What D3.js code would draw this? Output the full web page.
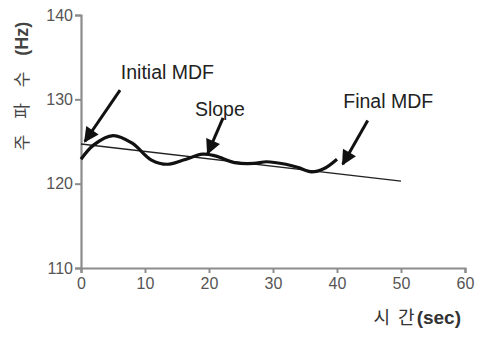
<!DOCTYPE html>
<html>
<head>
<meta charset="utf-8">
<script src="https://cdn.jsdelivr.net/npm/d3@7"></script>
<style>
  body { margin: 0; background: #fff; }
  svg text { font-family: "Liberation Sans", Arial, "Noto Sans CJK KR", sans-serif; }
</style>
</head>
<body>
<div id="chart"></div>
<script>
// smoothed MDF trace (time in sec, frequency in Hz)
const timeVals = [0, 2, 5, 8, 11, 13.5, 16, 19, 21, 24, 27, 29, 32, 34, 36, 38, 40];
const mdfVals = [122.9, 124.6, 125.7, 124.8, 122.8, 122.3, 122.8, 123.5, 123.3, 122.5, 122.4, 122.6, 122.3, 121.9, 121.4, 121.8, 122.9];

// regression line end points
const slopeTime = [0, 50];
const slopeVals = [124.7, 120.3];

const xTicks = [0, 10, 20, 30, 40, 50, 60];
const yTicks = [110, 120, 130, 140];

// annotation labels and arrows (data units)
const labelNames = ['Initial MDF', 'Slope', 'Final MDF'];
const labelPos = [[13.5, 132.4], [21.7, 128.0], [48, 129.0]];
const arrowFrom = [[6.1, 131.1], [22.2, 127.8], [44.8, 127.5]];
const arrowTo = [[0.6, 125.0], [19.8, 123.6], [40.9, 122.3]];

const width = 480, height = 338;
const margin = { top: 15, right: 15, bottom: 70, left: 81 };

const svg = d3.select('#chart').append('svg')
    .attr('width', width)
    .attr('height', height);

const x = d3.scaleLinear().domain([0, 60]).range([margin.left, width - margin.right]);
const y = d3.scaleLinear().domain([110, 140]).range([height - margin.bottom, margin.top]);

const axisColor = '#8c8c8c';

// y axis
const yAxis = svg.append('g')
    .attr('transform', 'translate(' + margin.left + ',0)')
    .call(d3.axisLeft(y).tickValues(yTicks).tickSize(6).tickPadding(2).tickFormat(d3.format('d')));

// x axis
const xAxis = svg.append('g')
    .attr('transform', 'translate(0,' + (height - margin.bottom) + ')')
    .call(d3.axisBottom(x).tickValues(xTicks).tickSize(5).tickPadding(5).tickFormat(d3.format('d')));

[xAxis, yAxis].forEach(function (g) {
    g.select('.domain').attr('stroke', axisColor).attr('stroke-width', 2.2);
    g.selectAll('.tick line').attr('stroke', axisColor).attr('stroke-width', 2);
    g.selectAll('.tick text').attr('fill', '#555').attr('font-size', 16);
});

// regression line
svg.append('line')
    .attr('x1', x(slopeTime[0])).attr('y1', y(slopeVals[0]))
    .attr('x2', x(slopeTime[1])).attr('y2', y(slopeVals[1]))
    .attr('stroke', '#222')
    .attr('stroke-width', 1.4);

// MDF trace
const line = d3.line()
    .x(function (d, i) { return x(timeVals[i]); })
    .y(function (d) { return y(d); })
    .curve(d3.curveCatmullRom.alpha(0.5));

svg.append('path')
    .datum(mdfVals)
    .attr('d', line)
    .attr('fill', 'none')
    .attr('stroke', '#111')
    .attr('stroke-width', 3.2);

// arrow head marker
svg.append('defs').append('marker')
    .attr('id', 'head')
    .attr('viewBox', '0 0 10 10')
    .attr('refX', 9).attr('refY', 5)
    .attr('markerWidth', 5.5).attr('markerHeight', 5)
    .attr('markerUnits', 'strokeWidth')
    .attr('orient', 'auto')
    .append('path')
    .attr('d', 'M0,0 L10,5 L0,10 Z')
    .attr('fill', '#111');

labelNames.forEach(function (name, i) {
    svg.append('line')
        .attr('x1', x(arrowFrom[i][0])).attr('y1', y(arrowFrom[i][1]))
        .attr('x2', x(arrowTo[i][0])).attr('y2', y(arrowTo[i][1]))
        .attr('stroke', '#111')
        .attr('stroke-width', 3)
        .attr('marker-end', 'url(#head)');

    svg.append('text')
        .attr('x', x(labelPos[i][0]))
        .attr('y', y(labelPos[i][1]))
        .attr('text-anchor', 'middle')
        .attr('font-size', 19.5)
        .attr('fill', '#222')
        .text(name);
});

// y axis title
const yTitle = svg.append('text')
    .attr('transform', 'translate(28,' + 86 + ') rotate(-90)')
    .attr('text-anchor', 'middle')
    .attr('fill', '#444')
    .attr('font-size', 17);
yTitle.append('tspan').attr('font-family', '"Noto Sans CJK KR"').attr('letter-spacing', 6).text('주 파 수 ');
yTitle.append('tspan').attr('font-weight', 'bold').attr('font-size', 18).text('(Hz)');

// x axis title
const xTitle = svg.append('text')
    .attr('x', 461)
    .attr('y', 324)
    .attr('text-anchor', 'end')
    .attr('fill', '#333')
    .attr('font-size', 18);
xTitle.append('tspan').attr('font-family', '"Noto Sans CJK KR"').attr('letter-spacing', 2).text('시  간');
xTitle.append('tspan').attr('font-weight', 'bold').attr('font-size', 19).text('(sec)');
</script>
</body>
</html>
